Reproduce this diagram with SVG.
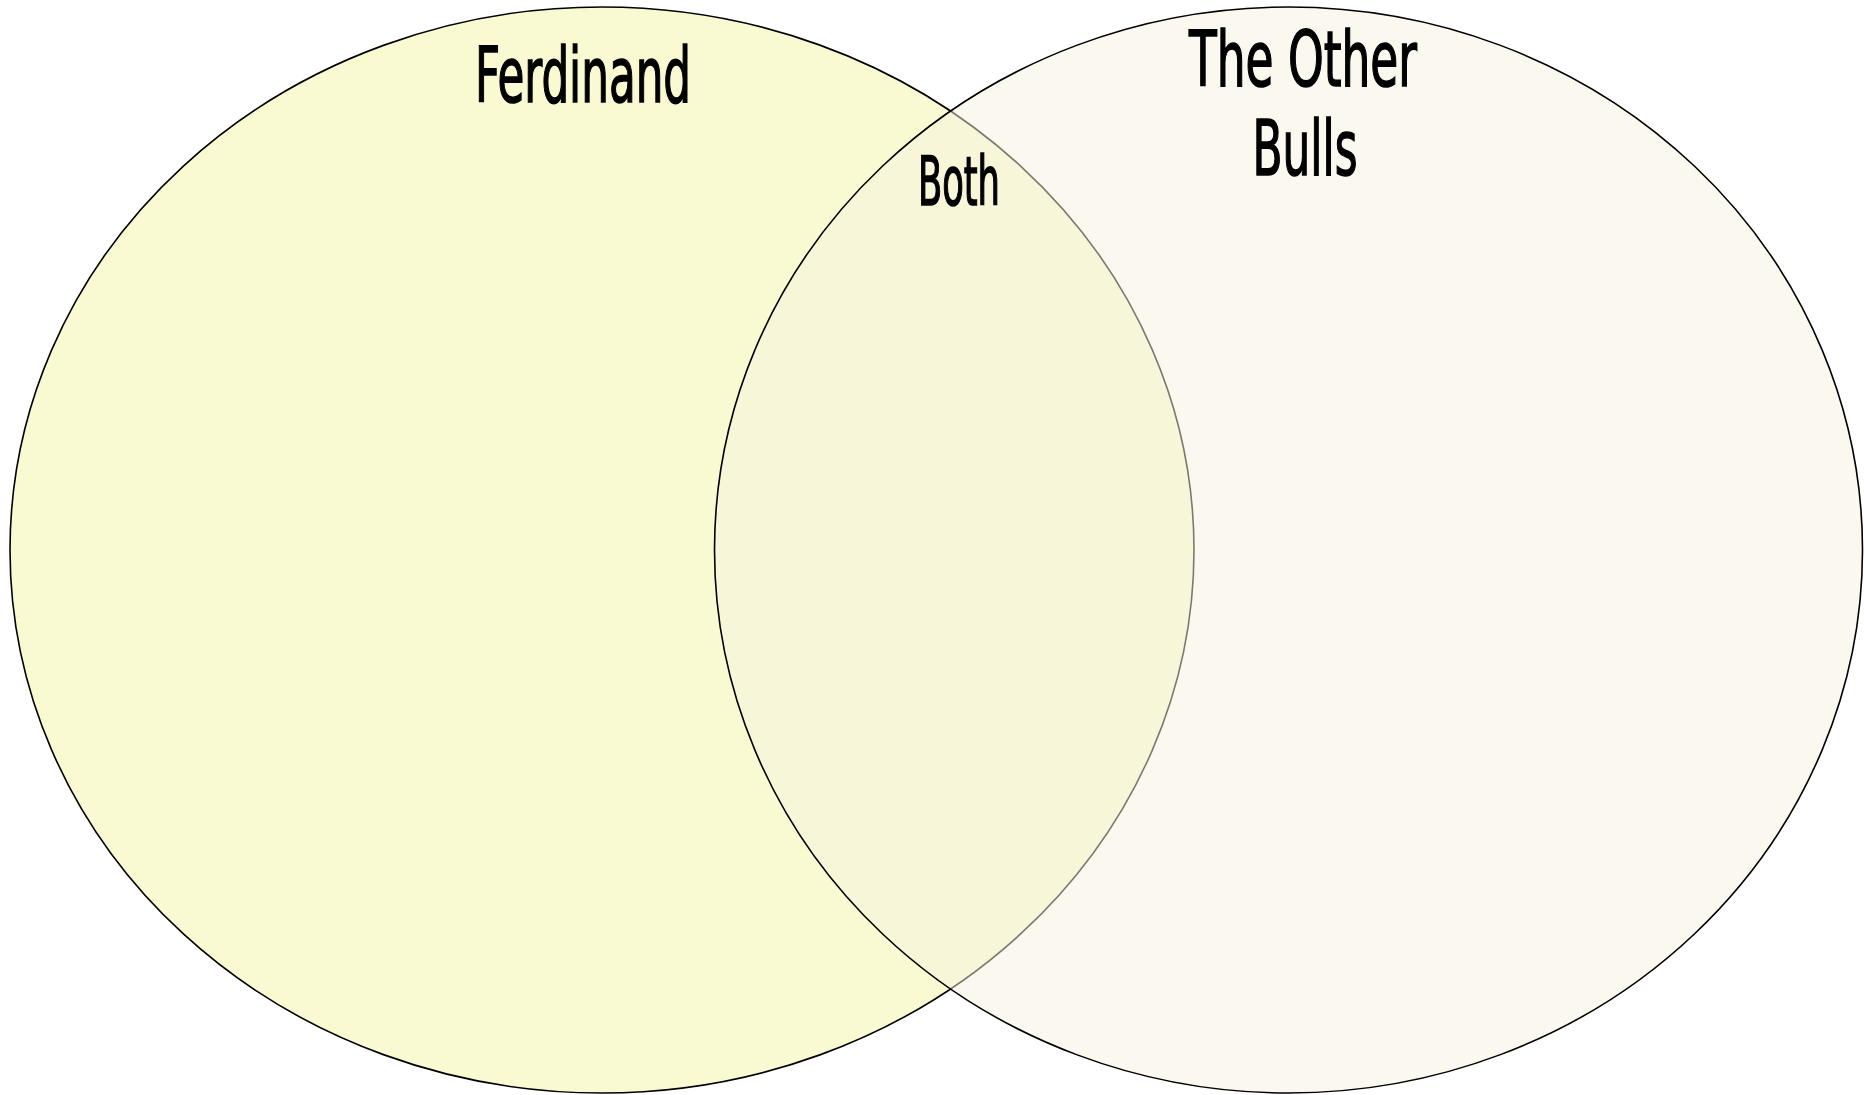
<svg xmlns="http://www.w3.org/2000/svg" width="1864" height="1095" viewBox="0 0 1864 1095">
<style>
.lbl{font-family:"Liberation Sans Narrow","DejaVu Sans Condensed","Liberation Sans",sans-serif;fill:#000;stroke:#000;stroke-width:1.5;text-anchor:middle}
.h{font-size:76px}
.b{font-size:68px}
.ell{stroke:#000;stroke-width:1.6}
</style>
<rect width="1864" height="1095" fill="#fff"/>
<g id="ferdinand">
<ellipse class="ell" cx="602" cy="550" rx="592" ry="543" fill="#F9FAD2"/>
<text class="lbl h" x="583" y="102" textLength="216" lengthAdjust="spacingAndGlyphs">Ferdinand</text>
</g>
<g id="other-bulls">
<ellipse class="ell" cx="1288.5" cy="550" rx="574" ry="543" fill="#F5F1DF" fill-opacity="0.5"/>
<text class="lbl h" x="1303" y="86" textLength="228" lengthAdjust="spacingAndGlyphs">The Other</text>
<text class="lbl h" x="1305" y="175" textLength="105" lengthAdjust="spacingAndGlyphs">Bulls</text>
</g>
<g id="both">
<text class="lbl b" x="959" y="205" textLength="82" lengthAdjust="spacingAndGlyphs">Both</text>
</g>
<g id="connectors"></g>
</svg>
